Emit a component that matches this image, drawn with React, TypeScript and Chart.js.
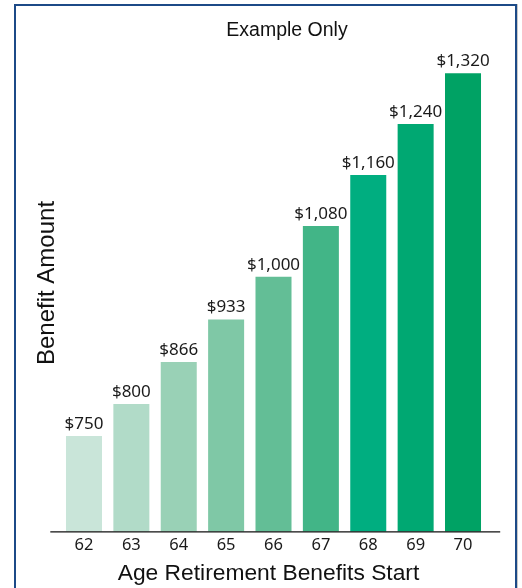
import React, { useEffect, useRef } from "react";
import { Chart, registerables } from "chart.js";

Chart.register(...registerables);

const ages = ["62", "63", "64", "65", "66", "67", "68", "69", "70"];
const benefits = [750, 800, 866, 933, 1000, 1080, 1160, 1240, 1320];
const barColors = [
  "#c9e5d9",
  "#b1dbc8",
  "#99d1b6",
  "#7fc8a6",
  "#63be96",
  "#42b587",
  "#00ae80",
  "#00a872",
  "#00a264",
];
const chartTitle = "Example Only";
const xTitle = "Age Retirement Benefits Start";
const yTitle = "Benefit Amount";
const yMin = 600;
const yMax = 1369;

const fmt = (v: number) => "$" + v.toLocaleString("en-US");

const decor = {
  id: "decor",
  afterDatasetsDraw(chart: any) {
    const { ctx, chartArea } = chart;
    const meta = chart.getDatasetMeta(0);
    ctx.save();
    // value labels
    ctx.font = '17px "Noto Sans"';
    ctx.fillStyle = "#1a1a1a";
    ctx.textAlign = "center";
    ctx.textBaseline = "alphabetic";
    meta.data.forEach((bar: any, i: number) => {
      ctx.fillText(fmt(benefits[i]), bar.x, bar.y - 7);
    });
    // baseline axis line
    ctx.strokeStyle = "#111";
    ctx.lineWidth = 1.2;
    ctx.beginPath();
    ctx.moveTo(chartArea.left - 10, chartArea.bottom + 0.5);
    ctx.lineTo(chartArea.right + 13.5, chartArea.bottom + 0.5);
    ctx.stroke();
    // chart title
    ctx.font = '19.5px "Liberation Sans"';
    ctx.fillStyle = "#111";
    ctx.fillText(chartTitle, 287, 36);
    // x title
    ctx.font = '22.8px "Liberation Sans"';
    ctx.fillText(xTitle, 268.5, 580);
    // y title
    ctx.translate(54, 283);
    ctx.rotate(-Math.PI / 2);
    ctx.font = '24px "Liberation Sans"';
    ctx.fillText(yTitle, 0, 0);
    ctx.restore();
  },
};

export default function App() {
  const ref = useRef<HTMLCanvasElement | null>(null);

  useEffect(() => {
    if (!ref.current) return;
    const chart = new Chart(ref.current, {
      type: "bar",
      data: {
        labels: ages,
        datasets: [
          {
            data: benefits,
            backgroundColor: barColors,
            borderWidth: 0,
            categoryPercentage: 1,
            barPercentage: 0.76,
          },
        ],
      },
      options: {
        responsive: false,
        animation: false,
        layout: { padding: { top: 42, left: 60.3, right: 35.3, bottom: 28.8 } },
        plugins: {
          legend: { display: false },
          tooltip: { enabled: false },
          title: { display: false },
        },
        scales: {
          x: {
            type: "category",
            offset: true,
            grid: { display: false, drawTicks: false },
            border: { display: false },
            ticks: {
              color: "#1a1a1a",
              font: { family: "Noto Sans", size: 16.5 },
              padding: 4,
              maxRotation: 0,
            },
          },
          y: {
            display: false,
            min: yMin,
            max: yMax,
          },
        },
      },
      plugins: [decor],
    });
    return () => chart.destroy();
  }, []);

  return (
    <div
      style={{
        position: "fixed",
        left: 0,
        top: 0,
        width: 522,
        height: 588,
        background: "#fff",
        overflow: "hidden",
      }}
    >
      <canvas
        ref={ref}
        width={522}
        height={588}
        style={{ position: "absolute", left: 0, top: 0, width: 522, height: 588 }}
      />
      <div
        style={{
          position: "absolute",
          left: 14,
          top: 4,
          width: 503,
          height: 620,
          boxSizing: "border-box",
          border: "2px solid #1c4a87",
          borderBottom: "none",
          boxShadow: "1px 0 0 #c8c8c8",
          pointerEvents: "none",
        }}
      />
    </div>
  );
}
